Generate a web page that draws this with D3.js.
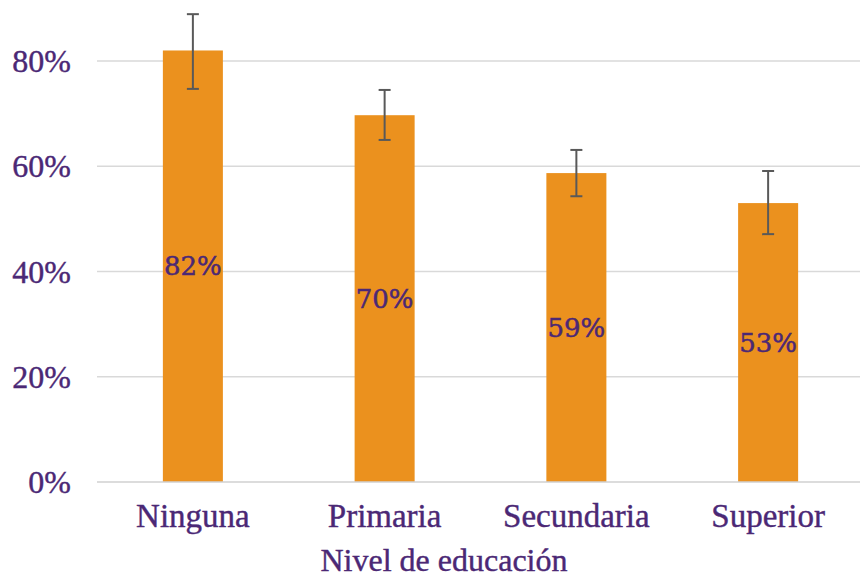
<!DOCTYPE html>
<html><head><meta charset="utf-8">
<script src="https://cdn.jsdelivr.net/npm/d3@7"></script>
<style>html,body{margin:0;padding:0;background:#fff;}svg{display:block;}</style>
</head><body>
<svg id="c" width="860" height="577"></svg>
<script>
const categories = ["Ninguna", "Primaria", "Secundaria", "Superior"];
const values = [0.82, 0.697, 0.587, 0.53];
const errLow = [0.747, 0.65, 0.543, 0.471];
const errHigh = [0.889, 0.745, 0.631, 0.591];
const labels = ["82%", "70%", "59%", "53%"];
const yTicks = [0, 0.2, 0.4, 0.6, 0.8];
const xTitle = "Nivel de educación";

const svg = d3.select("#c");
const purple = "#4B2875";
const x = d3.scaleBand().domain(categories).range([97, 864]).paddingInner(0.687).paddingOuter(0.3435);
const y = d3.scaleLinear().domain([0, 0.8]).range([482, 61]);

// gridlines
svg.append("g").selectAll("line").data(yTicks.filter(d => d > 0)).join("line")
  .attr("x1", 97).attr("x2", 864).attr("y1", d => y(d)).attr("y2", d => y(d))
  .attr("stroke", "#d9d9d9").attr("stroke-width", 1.5);

// y tick labels
svg.append("g").selectAll("text").data(yTicks).join("text")
  .attr("x", 71).attr("y", d => y(d)).attr("dy", "0.35em").attr("text-anchor", "end")
  .attr("font-family", "Liberation Serif").attr("font-size", 32).attr("fill", purple)
  .attr("stroke", purple).attr("stroke-width", 0.4)
  .text(d => d3.format(".0%")(d));

// bars
svg.append("g").selectAll("rect").data(categories).join("rect")
  .attr("x", d => x(d)).attr("width", x.bandwidth())
  .attr("y", (d, i) => y(values[i])).attr("height", (d, i) => y(0) - y(values[i]))
  .attr("fill", "#EB911E");

// x axis line
svg.append("line").attr("x1", 97).attr("x2", 864).attr("y1", y(0)).attr("y2", y(0))
  .attr("stroke", "#d0d0d0").attr("stroke-width", 1.5);

// error bars
const eb = svg.append("g").attr("stroke", "#595959").attr("stroke-width", 2);
categories.forEach((c, i) => {
  const cx = x(c) + x.bandwidth() / 2;
  eb.append("line").attr("x1", cx).attr("x2", cx).attr("y1", y(errHigh[i])).attr("y2", y(errLow[i]));
  eb.append("line").attr("x1", cx - 6).attr("x2", cx + 6).attr("y1", y(errHigh[i])).attr("y2", y(errHigh[i]));
  eb.append("line").attr("x1", cx - 6).attr("x2", cx + 6).attr("y1", y(errLow[i])).attr("y2", y(errLow[i]));
});

// bar labels
svg.append("g").selectAll("text").data(categories).join("text")
  .attr("x", d => x(d) + x.bandwidth() / 2)
  .attr("y", (d, i) => (y(values[i]) + y(0)) / 2).attr("dy", "0.35em")
  .attr("text-anchor", "middle").attr("font-family", "DejaVu Serif").attr("font-size", 26)
  .attr("fill", purple).attr("stroke", purple).attr("stroke-width", 0.5)
  .text((d, i) => labels[i]);

// x labels
svg.append("g").selectAll("text").data(categories).join("text")
  .attr("x", d => x(d) + x.bandwidth() / 2).attr("y", 527)
  .attr("text-anchor", "middle").attr("font-family", "Liberation Serif").attr("font-size", 33)
  .attr("fill", purple).attr("stroke", purple).attr("stroke-width", 0.4).text(d => d);

// x title
svg.append("text").attr("x", 444).attr("y", 571).attr("text-anchor", "middle")
  .attr("font-family", "Liberation Serif").attr("font-size", 32).attr("fill", purple)
  .attr("stroke", purple).attr("stroke-width", 0.4).text(xTitle);
</script>
</body></html>
